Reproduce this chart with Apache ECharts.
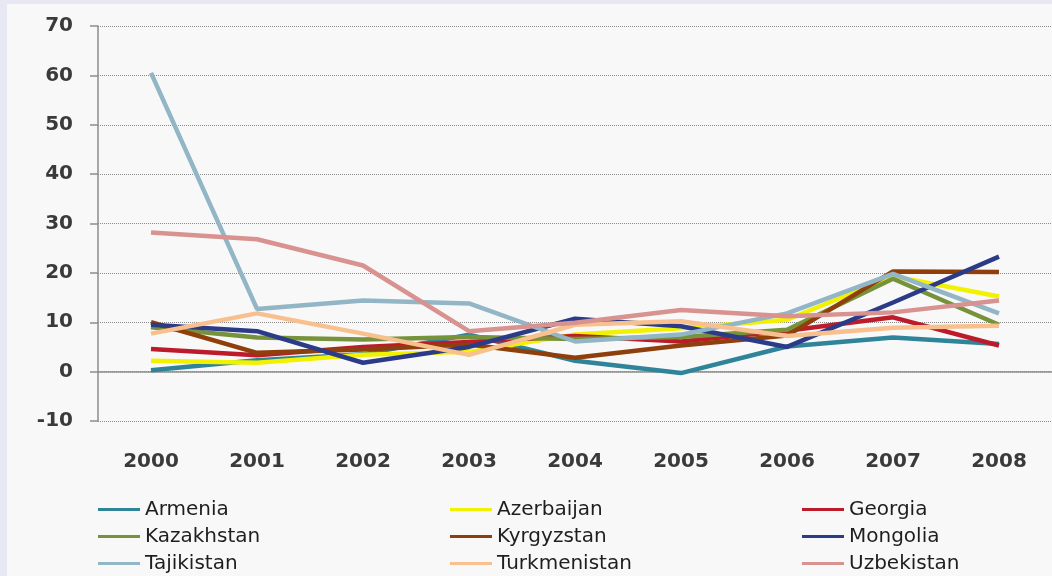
<!DOCTYPE html>
<html>
<head>
<meta charset="utf-8">
<script src="https://cdn.jsdelivr.net/npm/echarts@6/dist/echarts.min.js"></script>
<style>
  html, body { margin: 0; padding: 0; background: #e8e8f4; }
  #panel { position: absolute; left: 7px; top: 4px; width: 1045px; height: 572px; background: #f8f8f8; }
  #chart { position: absolute; left: 0; top: 0; width: 1052px; height: 576px; }
</style>
</head>
<body>
<div id="panel"></div>
<div id="chart"></div>
<script>
const years = ['2000', '2001', '2002', '2003', '2004', '2005', '2006', '2007', '2008']

const armenia      = [0.3, 2.3, 3.5, 7.5, 2.2, -0.3, 5.1, 6.9, 5.6]
const azerbaijan   = [2.2, 1.8, 3.4, 4.0, 7.5, 8.8, 10.5, 19.3, 15.2]
const georgia      = [4.6, 3.3, 5.0, 6.0, 7.2, 6.1, 8.3, 11.0, 5.3]
const kazakhstan   = [9.0, 6.9, 6.5, 7.0, 6.6, 7.0, 8.5, 18.8, 9.5]
const kyrgyzstan   = [10.0, 3.8, 4.5, 5.5, 2.8, 5.3, 7.3, 20.3, 20.2]
const mongolia     = [9.5, 8.2, 1.8, 5.0, 10.7, 9.2, 5.0, 14.0, 23.3]
const tajikistan   = [60.5, 12.7, 14.4, 13.8, 6.1, 7.5, 11.8, 19.8, 11.8]
const turkmenistan = [7.7, 11.8, 7.7, 3.4, 9.5, 10.2, 7.2, 8.9, 9.3]
const uzbekistan   = [28.2, 26.8, 21.5, 8.2, 9.9, 12.5, 11.2, 12.0, 14.4]

const yTicks = { min: -10, max: 70, step: 10 }

const seriesList = [
  { name: 'Armenia', data: armenia, color: '#2f8499' },
  { name: 'Azerbaijan', data: azerbaijan, color: '#f2f200' },
  { name: 'Georgia', data: georgia, color: '#bd1b2a' },
  { name: 'Kazakhstan', data: kazakhstan, color: '#76933c' },
  { name: 'Kyrgyzstan', data: kyrgyzstan, color: '#8f3f0c' },
  { name: 'Mongolia', data: mongolia, color: '#2b3b88' },
  { name: 'Tajikistan', data: tajikistan, color: '#92b6c5' },
  { name: 'Turkmenistan', data: turkmenistan, color: '#f8c08e' },
  { name: 'Uzbekistan', data: uzbekistan, color: '#d8928f' }
]

const legendText = { fontFamily: 'DejaVu Sans', fontSize: 20, color: '#1e1e1e', lineHeight: 21 }

// one vertical legend per column, three rows each
function legendCol(left, names) {
  return {
    orient: 'vertical',
    left: left,
    top: 494,
    height: 120,
    itemWidth: 42,
    itemHeight: 3,
    itemGap: 6,
    icon: 'rect',
    selectedMode: false,
    data: names,
    textStyle: legendText
  }
}

const chart = echarts.init(document.getElementById('chart'))

chart.setOption({
  backgroundColor: 'transparent',
  animation: false,
  grid: { left: 98, top: 26, width: 957, height: 395 },
  legend: [
    legendCol(93, ['Armenia', 'Kazakhstan', 'Tajikistan']),
    legendCol(445, ['Azerbaijan', 'Kyrgyzstan', 'Turkmenistan']),
    legendCol(797, ['Georgia', 'Mongolia', 'Uzbekistan'])
  ],
  xAxis: [
    {
      type: 'category',
      data: years,
      position: 'bottom',
      axisLine: { show: false, onZero: false },
      axisTick: { show: false },
      axisLabel: { margin: 31, fontFamily: 'DejaVu Sans', fontWeight: 'bold', fontSize: 20, color: '#3a3a3a' }
    },
    {
      // zero line with the category ticks
      type: 'category',
      data: years,
      position: 'bottom',
      axisLine: { onZero: true, lineStyle: { color: '#8c8c8c', width: 1.5 } },
      axisTick: { length: 7, lineStyle: { color: '#8c8c8c', width: 1.5 } },
      axisLabel: { show: false }
    }
  ],
  yAxis: {
    type: 'value',
    min: yTicks.min,
    max: yTicks.max,
    interval: yTicks.step,
    axisLine: { show: true, lineStyle: { color: '#8c8c8c', width: 1.5 } },
    axisTick: { show: true, length: 8, lineStyle: { color: '#8c8c8c', width: 1.5 } },
    axisLabel: { margin: 25, fontFamily: 'DejaVu Sans', fontWeight: 'bold', fontSize: 20, color: '#3a3a3a' },
    splitLine: { show: true, lineStyle: { type: 'dotted', color: '#8a8a8a', width: 1 } }
  },
  series: seriesList.map(s => ({
    name: s.name,
    type: 'line',
    xAxisIndex: 0,
    data: s.data,
    symbol: 'none',
    color: s.color,
    lineStyle: { width: 4.5, color: s.color }
  }))
})
</script>
</body>
</html>
